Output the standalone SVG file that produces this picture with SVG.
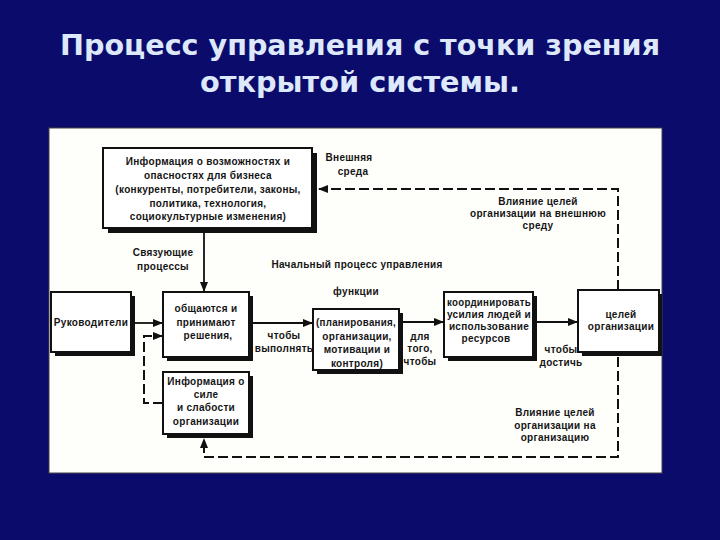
<svg xmlns="http://www.w3.org/2000/svg" width="720" height="540" viewBox="0 0 720 540">
<defs>
<style>
.t{font-family:"DejaVu Sans","Liberation Sans",sans-serif;font-weight:bold;font-size:29px;fill:#dde8fa;text-anchor:middle}
.l{font-family:"Liberation Sans",Arial,sans-serif;font-weight:bold;font-size:10px;fill:#151515;text-anchor:middle;letter-spacing:0.3px}
.box{fill:#ffffff;stroke:#111;stroke-width:2}
.sh{fill:#111}
.c{fill:none;stroke:#111;stroke-width:1.8}
.d{fill:none;stroke:#111;stroke-width:2;stroke-dasharray:10 4}
</style>
<marker id="ah" markerWidth="10" markerHeight="8" refX="9" refY="4" orient="auto" markerUnits="userSpaceOnUse">
<path d="M0,0 L10,4 L0,8 Z" fill="#111"/>
</marker>
</defs>
<rect x="0" y="0" width="720" height="540" fill="#0b0b6c"/>
<text class="t" x="360" y="55" textLength="600" lengthAdjust="spacingAndGlyphs">Процесс управления с точки зрения</text>
<text class="t" x="360" y="92" textLength="320" lengthAdjust="spacingAndGlyphs">открытой системы.</text>
<rect x="49" y="128" width="613" height="345" fill="#fefefb" stroke="#444" stroke-width="1"/>

<g id="connectors">
<path class="c" d="M204,233 V291" marker-end="url(#ah)"/>
<path class="c" d="M135,323 H162" marker-end="url(#ah)"/>
<path class="c" d="M253,323 H312" marker-end="url(#ah)"/>
<path class="c" d="M403,322 H443" marker-end="url(#ah)"/>
<path class="c" d="M537,322 H577" marker-end="url(#ah)"/>
<path class="d" d="M618,290 V189 H319" marker-end="url(#ah)"/>
<path class="d" d="M618,357 V457 H204 V439" marker-end="url(#ah)"/>
<path class="d" d="M163,403 H144 V336 H162" marker-end="url(#ah)"/>
</g>

<g id="info-env">
<rect class="sh" x="108" y="153" width="209" height="80"/>
<rect class="box" x="103" y="148" width="209" height="80"/>
<text class="l" x="208" y="165">Информация о возможностях и</text>
<text class="l" x="208" y="179">опасностях для бизнеса</text>
<text class="l" x="208" y="193">(конкуренты, потребители, законы,</text>
<text class="l" x="208" y="207">политика, технология,</text>
<text class="l" x="208" y="220">социокультурные изменения)</text>
</g>

<g id="managers">
<rect class="sh" x="55" y="296" width="80" height="60"/>
<rect class="box" x="51" y="292" width="80" height="60"/>
<text class="l" x="91" y="326">Руководители</text>
</g>

<g id="decide">
<rect class="sh" x="167" y="296" width="86" height="65"/>
<rect class="box" x="163" y="292" width="86" height="65"/>
<text class="l" x="206" y="312">общаются и</text>
<text class="l" x="206" y="326">принимают</text>
<text class="l" x="208" y="339">решения,</text>
</g>

<g id="info-org">
<rect class="sh" x="167" y="376" width="86" height="62"/>
<rect class="box" x="163" y="372" width="86" height="62"/>
<text class="l" x="206" y="385">Информация о</text>
<text class="l" x="206" y="398">силе</text>
<text class="l" x="206" y="411">и слабости</text>
<text class="l" x="206" y="425">организации</text>
</g>

<g id="functions">
<rect class="sh" x="317" y="313" width="86" height="61"/>
<rect class="box" x="313" y="309" width="86" height="61"/>
<text class="l" x="356" y="326" textLength="80" lengthAdjust="spacingAndGlyphs">(планирования,</text>
<text class="l" x="357" y="340">организации,</text>
<text class="l" x="357" y="353">мотивации и</text>
<text class="l" x="357" y="367">контроля)</text>
</g>

<g id="coordinate">
<rect class="sh" x="448" y="296" width="89" height="65"/>
<rect class="box" x="444" y="292" width="89" height="65"/>
<text class="l" x="489" y="306" textLength="84" lengthAdjust="spacingAndGlyphs">координировать</text>
<text class="l" x="489" y="318">усилия людей и</text>
<text class="l" x="489" y="330">использование</text>
<text class="l" x="486" y="342">ресурсов</text>
</g>

<g id="goals">
<rect class="sh" x="582" y="294" width="80" height="62"/>
<rect class="box" x="578" y="290" width="81" height="62"/>
<text class="l" x="621" y="318">целей</text>
<text class="l" x="621" y="330">организации</text>
</g>

<g id="labels">
<text class="l" x="349" y="161">Внешняя</text>
<text class="l" x="353" y="175">среда</text>
<text class="l" x="538" y="205">Влияние целей</text>
<text class="l" x="538" y="217">организации на внешнюю</text>
<text class="l" x="538" y="229">среду</text>
<text class="l" x="163" y="256">Связующие</text>
<text class="l" x="163" y="270">процессы</text>
<text class="l" x="357" y="268">Начальный процесс управления</text>
<text class="l" x="356" y="295">функции</text>
<text class="l" x="284" y="339">чтобы</text>
<text class="l" x="284" y="352">выполнять</text>
<text class="l" x="420" y="340">для</text>
<text class="l" x="420" y="352">того,</text>
<text class="l" x="420" y="365">чтобы</text>
<text class="l" x="561" y="353">чтобы</text>
<text class="l" x="561" y="366">достичь</text>
<text class="l" x="555" y="416">Влияние целей</text>
<text class="l" x="555" y="429">организации на</text>
<text class="l" x="555" y="441">организацию</text>
</g>
</svg>
